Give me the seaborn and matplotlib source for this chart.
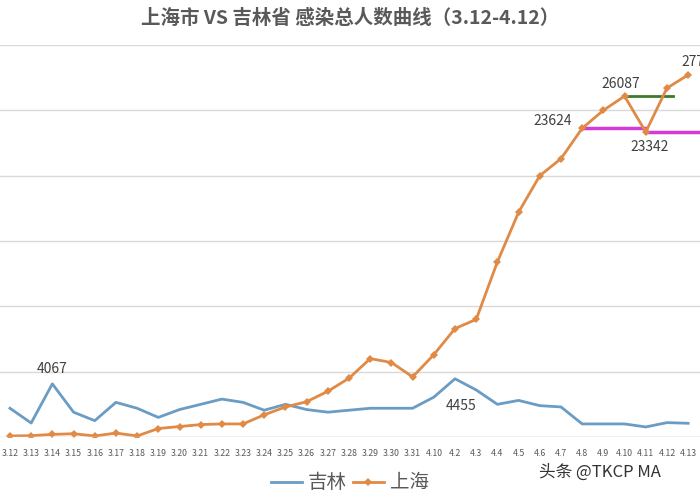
import matplotlib
matplotlib.use("Agg")
import matplotlib.pyplot as plt
import seaborn as sns
import pandas as pd

dates = ["3.12","3.13","3.14","3.15","3.16","3.17","3.18","3.19","3.20","3.21","3.22","3.23","3.24","3.25",
         "3.26","3.27","3.28","3.29","3.30","3.31","4.10","4.2","4.3","4.4","4.5","4.6","4.7","4.8","4.9",
         "4.10","4.11","4.12","4.13"]
jilin = [2200,1070,4067,1900,1250,2650,2200,1500,2100,2500,2900,2650,2050,2500,2100,1900,2050,2200,2200,2200,
         3050,4455,3600,2500,2800,2400,2300,1000,1000,1000,770,1100,1050]
shanghai = [80,100,200,250,80,300,80,650,800,950,1000,1000,1700,2300,2700,3500,4500,6000,5700,4600,
            6300,8300,9000,13400,17200,20000,21300,23624,25000,26087,23342,26700,27710]

plt.rcParams["font.family"] = ["Noto Sans CJK SC"]
df = pd.DataFrame({"x": range(len(dates)), "吉林": jilin, "上海": shanghai})
fig = plt.figure(figsize=(7, 5), dpi=100)
ax = fig.add_axes([0, 0.126, 1, 0.784])
blue, orange = "#6a9cc4", "#e08a45"
sns.lineplot(data=df, x="x", y="吉林", ax=ax, color=blue, lw=2, label="吉林")
sns.lineplot(data=df, x="x", y="上海", ax=ax, color=orange, lw=2, marker="D", markersize=4,
             markeredgewidth=0, label="上海")
ax.set_xlim(-0.47, 32.56)
ax.set_ylim(0, 30000)
ax.set_yticks(range(0, 30001, 5000))
ax.set_yticklabels([])
ax.tick_params(left=False, bottom=False, labelsize=6.3, colors="#595959", pad=5)
ax.set_xticks(range(len(dates)))
ax.set_xticklabels(dates)
ax.grid(axis="y", color="#d9d9d9", lw=1)
ax.set_axisbelow(True)
for s in ax.spines.values():
    s.set_visible(False)
ax.axhline(0, color="#d9d9d9", lw=1)
ax.set_xlabel(""); ax.set_ylabel("")

i8, i10, i11 = 27, 29, 30
ax.plot([i8, i11], [shanghai[i8]]*2, color="#d63ad6", lw=2.5, zorder=1)
ax.plot([i11, 33.5], [shanghai[i11]]*2, color="#d63ad6", lw=2.5, zorder=1, clip_on=False)
ax.plot([i10, 31.3], [shanghai[i10]]*2, color="#3b7a2a", lw=2, zorder=1)

tc = "#404040"
ax.text(2, 4900, "4067", ha="center", fontsize=10, color=tc)
ax.text(21.3, 2100, "4455", ha="center", fontsize=10, color=tc)
ax.text(26.5, 23900, "23624", ha="right", fontsize=10, color=tc)
ax.text(28.8, 26700, "26087", ha="center", fontsize=10, color=tc)
ax.text(30.2, 21900, "23342", ha="center", fontsize=10, color=tc)
ax.text(32.6, 28400, "27710", ha="center", fontsize=10, color=tc, clip_on=False)
ax.text(33.4, 21800, "23", ha="center", fontsize=10, color=tc, clip_on=False)

ax.legend(loc="center", bbox_to_anchor=(0.5, -0.117), ncol=2, frameon=False, fontsize=14,
          handlelength=1.6, columnspacing=0.3, handletextpad=0.3, labelcolor="#595959")
fig.text(0.5, 0.963, "上海市 VS 吉林省 感染总人数曲线（3.12-4.12）", ha="center", va="center",
         fontsize=14, color="#595959", fontweight="bold")
fig.text(0.77, 0.047, "头条 @TKCP MA", fontsize=12, color="#333333")
fig.savefig("out.png", dpi=100)
